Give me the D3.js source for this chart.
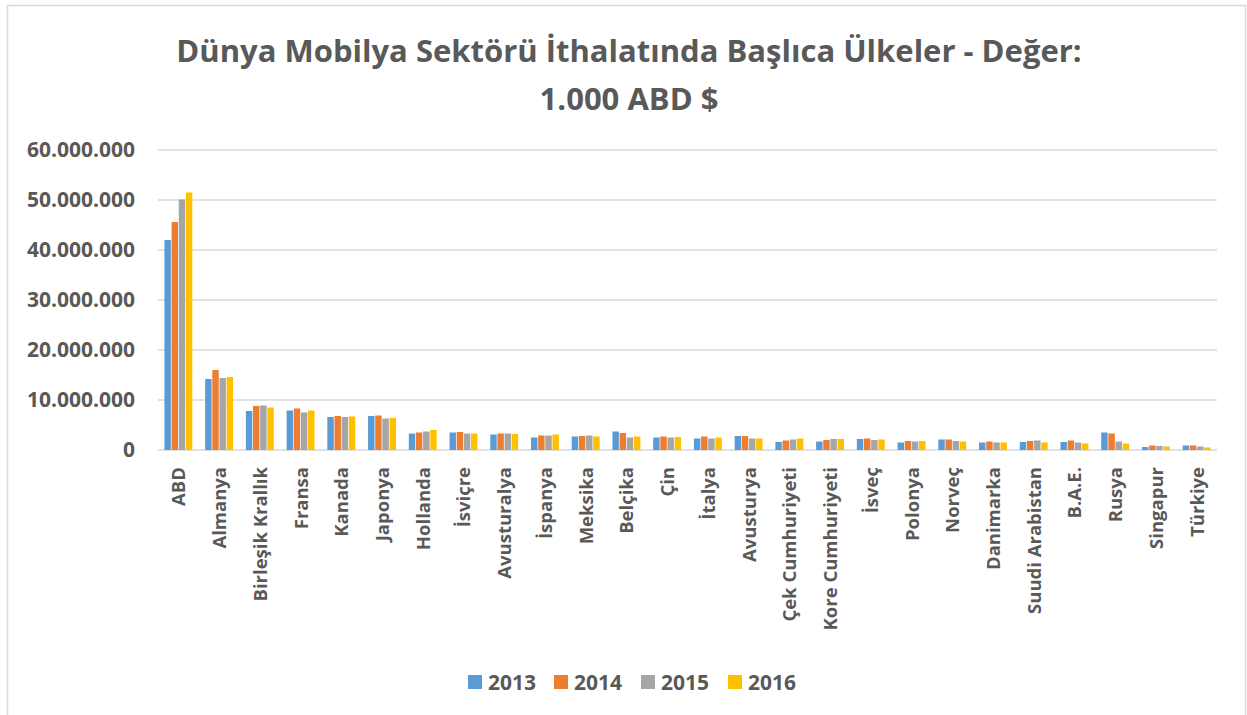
<!DOCTYPE html>
<html lang="tr">
  <head>
    <meta charset="UTF-8" />
    <title>Dünya Mobilya Sektörü İthalatında Başlıca Ülkeler</title>
    <script src="https://d3js.org/d3.v7.min.js"></script>
    <style>
      body {
        margin: 0;
        padding: 0;
        background: #ffffff;
      }
      text {
        font-family: "Open Sans", "Noto Sans", sans-serif;
        font-weight: bold;
        fill: #595959;
      }
    </style>
  </head>
  <body>
    <svg id="chart" width="1247" height="715"></svg>

    <script>
      // Countries (x categories)
      var countries = [
        "ABD", "Almanya", "Birleşik Krallık", "Fransa", "Kanada", "Japonya",
        "Hollanda", "İsviçre", "Avusturalya", "İspanya", "Meksika", "Belçika",
        "Çin", "İtalya", "Avusturya", "Çek Cumhuriyeti", "Kore Cumhuriyeti",
        "İsveç", "Polonya", "Norveç", "Danimarka", "Suudi Arabistan", "B.A.E.",
        "Rusya", "Singapur", "Türkiye"
      ];

      var years = ["2013", "2014", "2015", "2016"];

      // values in 1.000 ABD $
      var v2013 = [42000000, 14200000, 7800000, 7900000, 6600000, 6800000,
        3300000, 3500000, 3100000, 2500000, 2700000, 3700000, 2500000, 2300000,
        2800000, 1600000, 1700000, 2200000, 1500000, 2100000, 1500000, 1600000,
        1600000, 3500000, 600000, 900000];
      var v2014 = [45600000, 16000000, 8800000, 8300000, 6800000, 6900000,
        3500000, 3600000, 3300000, 2900000, 2800000, 3400000, 2700000, 2700000,
        2800000, 1900000, 2000000, 2300000, 1800000, 2100000, 1700000, 1800000,
        1900000, 3300000, 900000, 900000];
      var v2015 = [50100000, 14400000, 8900000, 7500000, 6600000, 6300000,
        3700000, 3300000, 3300000, 2900000, 2900000, 2500000, 2500000, 2300000,
        2300000, 2100000, 2200000, 2000000, 1700000, 1800000, 1500000, 1900000,
        1500000, 1700000, 800000, 700000];
      var v2016 = [51500000, 14600000, 8500000, 7900000, 6700000, 6400000,
        4000000, 3300000, 3200000, 3100000, 2700000, 2700000, 2600000, 2500000,
        2300000, 2300000, 2200000, 2100000, 1800000, 1700000, 1500000, 1500000,
        1300000, 1300000, 700000, 500000];

      var yTicks = [0, 10000000, 20000000, 30000000, 40000000, 50000000, 60000000];

      var colors = ["#5B9BD5", "#ED7D31", "#A5A5A5", "#FFC000"];
      var series = [v2013, v2014, v2015, v2016];

      var svg = d3.select("#chart");
      var margin = { left: 158, right: 1217, top: 150, bottom: 450 };

      // chart border
      svg
        .append("rect")
        .attr("x", 7.5)
        .attr("y", 5.5)
        .attr("width", 1238)
        .attr("height", 720)
        .attr("fill", "white")
        .attr("stroke", "#d9d9d9")
        .attr("stroke-width", 1.5);

      // Title, fitted to its width in the reference
      function fitText(sel, target) {
        var w = sel.node().getComputedTextLength();
        var fs = parseFloat(sel.attr("font-size"));
        sel.attr("font-size", (fs * target) / w);
      }
      var t1 = svg
        .append("text")
        .attr("x", 629)
        .attr("y", 62)
        .attr("text-anchor", "middle")
        .attr("font-size", 34)
        .text("Dünya Mobilya Sektörü İthalatında Başlıca Ülkeler - Değer:");
      fitText(t1, 906);
      var t2 = svg
        .append("text")
        .attr("x", 629)
        .attr("y", 110)
        .attr("text-anchor", "middle")
        .attr("font-size", t1.attr("font-size"))
        .text("1.000 ABD $");

      var x = d3
        .scaleBand()
        .domain(countries)
        .range([margin.left, margin.right])
        .paddingInner(0.28)
        .paddingOuter(0.14);

      var xInner = d3.scaleBand().domain(years).range([0, x.bandwidth()]).padding(0.1);

      var y = d3.scaleLinear().domain([0, 60000000]).range([margin.bottom, margin.top]);

      // gridlines
      svg
        .append("g")
        .selectAll("line")
        .data(yTicks)
        .enter()
        .append("line")
        .attr("x1", margin.left)
        .attr("x2", margin.right)
        .attr("y1", function (d) { return y(d); })
        .attr("y2", function (d) { return y(d); })
        .attr("stroke", "#d9d9d9")
        .attr("stroke-width", 1.5);

      // y axis labels
      var fmt = function (d) {
        return d3.format(",")(d).replace(/,/g, ".");
      };
      var yAxis = d3.axisLeft(y).tickValues(yTicks).tickFormat(fmt).tickSize(0).tickPadding(23);
      var yg = svg.append("g").attr("transform", "translate(" + margin.left + ",0)").call(yAxis);
      yg.select(".domain").remove();
      yg.selectAll("text")
        .attr("font-size", 21)
        .attr("fill", "#595959")
        .style("font-family", "'Open Sans', sans-serif")
        .style("font-weight", "bold");

      // bars
      var groups = svg
        .append("g")
        .selectAll("g")
        .data(countries)
        .enter()
        .append("g")
        .attr("transform", function (d) { return "translate(" + x(d) + ",0)"; });

      groups
        .selectAll("rect")
        .data(function (d, i) {
          return years.map(function (yr, k) {
            return { year: yr, value: series[k][i], color: colors[k] };
          });
        })
        .enter()
        .append("rect")
        .attr("x", function (d) { return xInner(d.year); })
        .attr("width", xInner.bandwidth())
        .attr("y", function (d) { return y(d.value); })
        .attr("height", function (d) { return y(0) - y(d.value); })
        .attr("fill", function (d) { return d.color; });

      // x labels (rotated)
      svg
        .append("g")
        .selectAll("text")
        .data(countries)
        .enter()
        .append("text")
        .attr("transform", function (d) {
          return "translate(" + (x(d) + x.bandwidth() / 2 + 7) + ",467) rotate(-90)";
        })
        .attr("text-anchor", "end")
        .attr("font-size", 18.5)
        .text(function (d) { return d; });

      // legend
      var legendX = [468, 554, 641, 728];
      var legend = svg
        .append("g")
        .selectAll("g")
        .data(years)
        .enter()
        .append("g")
        .attr("transform", function (d, i) { return "translate(" + legendX[i] + ",675)"; });
      legend
        .append("rect")
        .attr("width", 14)
        .attr("height", 14)
        .attr("fill", function (d, i) { return colors[i]; });
      legend
        .append("text")
        .attr("x", 20)
        .attr("y", 14.5)
        .attr("font-size", 21)
        .text(function (d) { return d; });
    </script>
  </body>
</html>
